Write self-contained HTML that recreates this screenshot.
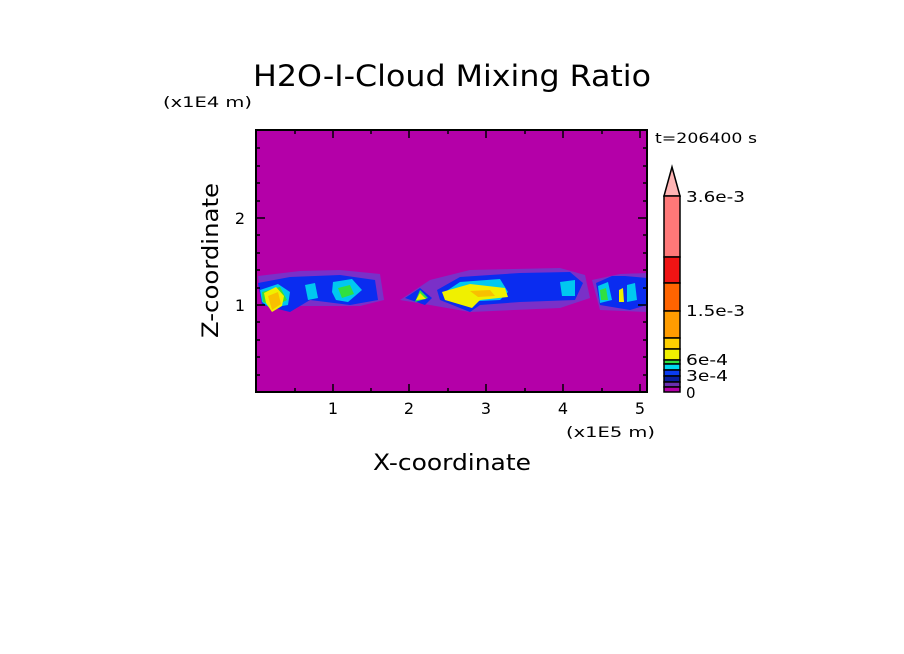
<!DOCTYPE html>
<html><head><style>
body{margin:0;background:#fff;}
svg{display:block;font-family:"DejaVu Sans","Liberation Sans",sans-serif;}
</style></head><body>
<svg width="904" height="654" viewBox="0 0 904 654">
<rect width="904" height="654" fill="#fff"/>
<text x="253" y="86" font-size="29" textLength="398" lengthAdjust="spacingAndGlyphs">H2O-I-Cloud Mixing Ratio</text>
<text x="163" y="107" font-size="14" textLength="89" lengthAdjust="spacingAndGlyphs">(x1E4 m)</text>
<text x="655" y="143" font-size="14" textLength="102" lengthAdjust="spacingAndGlyphs">t=206400 s</text>
<rect x="256" y="130" width="391" height="262" fill="#b400a8"/>
<g>
<path d="M258 276 L300 271 L340 270 L380 274 L384 300 L360 306 L300 306 L262 306 Z" fill="#7a30c8"/>
<path d="M400 300 L430 280 L470 270 L560 268 L585 275 L590 298 L560 308 L470 312 L430 305 Z" fill="#7a30c8"/>
<path d="M592 280 L620 274 L647 273 L647 312 L600 310 Z" fill="#7a30c8"/>
<path d="M258 283 L290 277 L340 275 L375 280 L378 300 L350 305 L310 300 L290 312 L262 305 Z" fill="#0a2cf0"/>
<path d="M405 298 L420 288 L432 298 L425 305 Z" fill="#0a2cf0"/>
<path d="M437 290 L460 277 L520 273 L570 272 L583 283 L575 300 L520 302 L480 305 L470 312 L440 300 Z" fill="#0a2cf0"/>
<path d="M596 283 L612 276 L625 276 L647 278 L647 305 L630 310 L600 305 Z" fill="#0a2cf0"/>
<path d="M260 290 L278 284 L290 292 L288 305 L270 308 L262 302 Z" fill="#00c8f0"/>
<path d="M333 282 L352 279 L362 290 L348 302 L336 300 L332 292 Z" fill="#00c8f0"/>
<path d="M305 285 L315 283 L318 298 L308 300 Z" fill="#00c8f0"/>
<path d="M445 292 L460 282 L500 279 L508 292 L500 300 L460 302 Z" fill="#00c8f0"/>
<path d="M560 282 L575 280 L575 296 L562 296 Z" fill="#00c8f0"/>
<path d="M598 286 L608 282 L612 300 L600 303 Z" fill="#00c8f0"/>
<path d="M627 285 L635 283 L637 300 L627 302 Z" fill="#00c8f0"/>
<path d="M262 292 L280 287 L287 300 L275 306 L263 302 Z" fill="#30e040"/>
<path d="M338 288 L350 285 L354 294 L342 298 Z" fill="#30e040"/>
<path d="M420 290 L428 298 L415 302 Z" fill="#30e040"/>
<path d="M600 290 L606 288 L608 300 L601 300 Z" fill="#30e040"/>
<path d="M264 293 L276 287 L284 296 L282 306 L272 312 L266 303 Z" fill="#f0f000"/>
<path d="M420 293 L426 299 L416 300 Z" fill="#f0f000"/>
<path d="M442 292 L470 284 L505 288 L508 297 L480 300 L472 308 L445 300 Z" fill="#f0f000"/>
<path d="M619 290 L623 288 L624 302 L619 302 Z" fill="#f0f000"/>
<path d="M268 296 L278 292 L281 304 L272 310 Z" fill="#f8c000"/>
<path d="M470 291 L490 290 L495 296 L478 297 Z" fill="#f8c000"/>
</g>
<rect x="256" y="130" width="391" height="262" fill="none" stroke="#000" stroke-width="2"/>
<g stroke="#000" stroke-width="1.5">
<path d="M333 392v-8M409 392v-8M486 392v-8M563 392v-8M640 392v-8M333 130v8M409 130v8M486 130v8M563 130v8M640 130v8"/>
<path d="M256 305h9M256 218h9M647 305h-9M647 218h-9"/>
<path d="M295 392v-4M371 392v-4M448 392v-4M525 392v-4M602 392v-4M295 130v4M371 130v4M448 130v4M525 130v4M602 130v4"/>
<path d="M256 375h4M256 357h4M256 340h4M256 322h4M256 288h4M256 270h4M256 253h4M256 235h4M256 201h4M256 183h4M256 166h4M256 148h4"/>
<path d="M647 375h-4M647 357h-4M647 340h-4M647 322h-4M647 288h-4M647 270h-4M647 253h-4M647 235h-4M647 201h-4M647 183h-4M647 166h-4M647 148h-4"/>
</g>
<g font-size="16" text-anchor="middle">
<text x="333" y="414">1</text><text x="409" y="414">2</text><text x="486" y="414">3</text><text x="563" y="414">4</text><text x="640" y="414">5</text>
</g>
<g font-size="16" text-anchor="end"><text x="245" y="311">1</text><text x="245" y="224">2</text></g>
<text x="566" y="437" font-size="14" textLength="89" lengthAdjust="spacingAndGlyphs">(x1E5 m)</text>
<text x="373" y="470" font-size="22" textLength="158" lengthAdjust="spacingAndGlyphs">X-coordinate</text>
<text transform="translate(218 338) rotate(-90)" font-size="22" textLength="155" lengthAdjust="spacingAndGlyphs">Z-coordinate</text>
<g stroke="#000" stroke-width="1.5">
<path d="M664 196 L672 167 L680 196 Z" fill="#ffb4b4"/>
<rect x="664" y="196" width="16" height="61" fill="#ff7878"/>
<rect x="664" y="257" width="16" height="26" fill="#f01414"/>
<rect x="664" y="283" width="16" height="28" fill="#ff6400"/>
<rect x="664" y="311" width="16" height="27" fill="#ff9c00"/>
<rect x="664" y="338" width="16" height="11" fill="#ffd000"/>
<rect x="664" y="349" width="16" height="11" fill="#f0f000"/>
<rect x="664" y="360" width="16" height="4" fill="#30e040"/>
<rect x="664" y="364" width="16" height="6" fill="#00d8f0"/>
<rect x="664" y="370" width="16" height="6" fill="#0a3cf0"/>
<rect x="664" y="376" width="16" height="6" fill="#0a1ea0"/>
<rect x="664" y="382" width="16" height="5" fill="#6a30b0"/>
<rect x="664" y="387" width="16" height="5" fill="#b400a8"/>
</g>
<g font-size="15">
<text x="686" y="202" textLength="59" lengthAdjust="spacingAndGlyphs">3.6e-3</text>
<text x="686" y="316" textLength="59" lengthAdjust="spacingAndGlyphs">1.5e-3</text>
<text x="686" y="365" textLength="42" lengthAdjust="spacingAndGlyphs">6e-4</text>
<text x="686" y="381" textLength="42" lengthAdjust="spacingAndGlyphs">3e-4</text>
<text x="686" y="398">0</text>
</g>
</svg>
</body></html>
